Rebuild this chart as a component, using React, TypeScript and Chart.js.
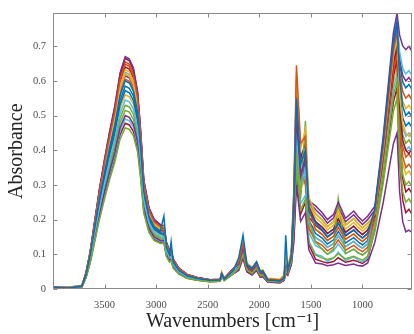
import React, { useEffect, useRef } from "react";
import { Chart, registerables } from "chart.js";

Chart.register(...registerables);

// Wavenumber grid (cm^-1) shared by every spectrum
const WAVENUMBERS = [
  4000, 3850, 3720, 3680, 3640, 3600, 3550, 3500, 3450, 3400, 3350, 3300, 3260, 3220, 3180, 3150, 3120, 3070, 3020,
  2960, 2925, 2900, 2870, 2855, 2835, 2780, 2700, 2600, 2480,
  2380, 2365, 2340, 2250, 2200, 2158, 2120, 2070, 2027, 1990, 1966, 1920, 1800, 1760, 1744, 1725, 1690,
  1665, 1640, 1600, 1553, 1520,
  1455, 1390, 1340, 1280, 1235, 1165, 1085, 1045, 1000, 950, 880,
  800, 740, 700, 665, 640, 610, 580, 550, 520,
];

const X_TICKS = [3500, 3000, 2500, 2000, 1500, 1000];
const Y_TICKS = [0, 0.1, 0.2, 0.3, 0.4, 0.5, 0.6, 0.7];
const X_MIN = 520;
const X_MAX = 4000;
const Y_MAX = 0.795;

const COLORS = ["#0072BD", "#D95319", "#EDB120", "#7E2F8E", "#77AC30", "#4DBEEE", "#A2142F"];

const SPECTRUM_01 = [
  0.004, 0.003, 0.008, 0.042, 0.096, 0.168, 0.258, 0.336, 0.408, 0.474, 0.558, 0.6, 0.594, 0.57, 0.51, 0.408, 0.282, 0.21, 0.18,
  0.167, 0.21, 0.12, 0.099, 0.136, 0.078, 0.054, 0.038, 0.03, 0.025,
  0.026, 0.044, 0.029, 0.054, 0.09, 0.155, 0.07, 0.06, 0.078, 0.05, 0.052, 0.027, 0.024, 0.03, 0.155, 0.055, 0.09,
  0.25, 0.55, 0.36, 0.4, 0.225,
  0.19, 0.17, 0.15, 0.165, 0.19, 0.155, 0.17, 0.158, 0.147, 0.16, 0.231,
  0.424, 0.6, 0.716, 0.77, 0.608, 0.527, 0.5, 0.51, 0.495,
];
const SPECTRUM_02 = [
  0.006, 0.004, 0.009, 0.045, 0.104, 0.181, 0.279, 0.363, 0.441, 0.512, 0.603, 0.648, 0.642, 0.616, 0.551, 0.441, 0.305, 0.227, 0.194,
  0.18, 0.176, 0.13, 0.107, 0.109, 0.084, 0.058, 0.041, 0.032, 0.027,
  0.027, 0.045, 0.03, 0.058, 0.078, 0.13, 0.07, 0.059, 0.078, 0.049, 0.052, 0.029, 0.026, 0.036, 0.065, 0.058, 0.1,
  0.29, 0.645, 0.42, 0.44, 0.23,
  0.172, 0.157, 0.14, 0.152, 0.178, 0.143, 0.159, 0.147, 0.137, 0.15, 0.222,
  0.407, 0.577, 0.688, 0.74, 0.626, 0.569, 0.55, 0.56, 0.545,
];
const SPECTRUM_03 = [
  0.003, 0.005, 0.007, 0.044, 0.101, 0.177, 0.272, 0.354, 0.43, 0.499, 0.588, 0.632, 0.626, 0.6, 0.537, 0.43, 0.297, 0.221, 0.19,
  0.176, 0.18, 0.126, 0.104, 0.11, 0.082, 0.057, 0.04, 0.031, 0.026,
  0.027, 0.05, 0.03, 0.057, 0.084, 0.14, 0.075, 0.063, 0.075, 0.053, 0.056, 0.031, 0.028, 0.04, 0.09, 0.063, 0.11,
  0.28, 0.62, 0.403, 0.46, 0.265,
  0.217, 0.199, 0.18, 0.194, 0.226, 0.184, 0.203, 0.189, 0.176, 0.19, 0.216,
  0.396, 0.562, 0.67, 0.72, 0.558, 0.477, 0.45, 0.44, 0.455,
];
const SPECTRUM_04 = [
  0.005, 0.002, 0.008, 0.047, 0.107, 0.188, 0.288, 0.375, 0.456, 0.529, 0.623, 0.67, 0.663, 0.637, 0.57, 0.456, 0.315, 0.235, 0.201,
  0.186, 0.181, 0.134, 0.111, 0.113, 0.087, 0.06, 0.042, 0.033, 0.027,
  0.028, 0.046, 0.031, 0.06, 0.072, 0.12, 0.065, 0.054, 0.072, 0.046, 0.048, 0.026, 0.024, 0.034, 0.09, 0.054, 0.095,
  0.225, 0.5, 0.325, 0.38, 0.254,
  0.24, 0.22, 0.2, 0.215, 0.25, 0.204, 0.225, 0.21, 0.196, 0.21, 0.239,
  0.437, 0.62, 0.739, 0.795, 0.732, 0.701, 0.69, 0.7, 0.685,
];
const SPECTRUM_05 = [
  0.002, 0.004, 0.006, 0.033, 0.074, 0.13, 0.2, 0.26, 0.316, 0.367, 0.432, 0.465, 0.46, 0.442, 0.395, 0.316, 0.219, 0.163, 0.14,
  0.131, 0.132, 0.093, 0.077, 0.082, 0.06, 0.043, 0.031, 0.025, 0.021,
  0.022, 0.038, 0.025, 0.045, 0.06, 0.1, 0.055, 0.045, 0.06, 0.038, 0.04, 0.022, 0.02, 0.028, 0.05, 0.045, 0.08,
  0.18, 0.4, 0.26, 0.485, 0.2,
  0.135, 0.115, 0.1, 0.115, 0.26, 0.102, 0.115, 0.105, 0.098, 0.11, 0.18,
  0.33, 0.468, 0.558, 0.6, 0.42, 0.33, 0.3, 0.31, 0.295,
];
const SPECTRUM_06 = [
  0.005, 0.006, 0.009, 0.038, 0.087, 0.153, 0.234, 0.305, 0.371, 0.431, 0.507, 0.545, 0.54, 0.518, 0.463, 0.371, 0.256, 0.191, 0.164,
  0.152, 0.151, 0.109, 0.09, 0.094, 0.071, 0.049, 0.035, 0.028, 0.023,
  0.024, 0.042, 0.027, 0.05, 0.072, 0.12, 0.065, 0.054, 0.072, 0.046, 0.048, 0.026, 0.024, 0.034, 0.06, 0.054, 0.09,
  0.2, 0.45, 0.293, 0.35, 0.19,
  0.148, 0.136, 0.12, 0.131, 0.154, 0.122, 0.137, 0.126, 0.118, 0.13, 0.234,
  0.429, 0.608, 0.725, 0.78, 0.684, 0.636, 0.62, 0.63, 0.615,
];
const SPECTRUM_07 = [
  0.004, 0.005, 0.007, 0.047, 0.106, 0.186, 0.286, 0.372, 0.452, 0.525, 0.618, 0.665, 0.658, 0.632, 0.565, 0.452, 0.313, 0.233, 0.2,
  0.185, 0.18, 0.133, 0.11, 0.112, 0.086, 0.06, 0.042, 0.033, 0.027,
  0.028, 0.046, 0.031, 0.06, 0.072, 0.12, 0.065, 0.054, 0.072, 0.046, 0.048, 0.026, 0.024, 0.034, 0.06, 0.054, 0.095,
  0.26, 0.58, 0.377, 0.42, 0.238,
  0.194, 0.178, 0.16, 0.173, 0.202, 0.163, 0.181, 0.168, 0.157, 0.17, 0.21,
  0.385, 0.546, 0.651, 0.7, 0.52, 0.43, 0.4, 0.39, 0.405,
];
const SPECTRUM_08 = [
  0.003, 0.003, 0.008, 0.041, 0.094, 0.164, 0.252, 0.328, 0.398, 0.462, 0.544, 0.585, 0.579, 0.556, 0.497, 0.398, 0.275, 0.205, 0.176,
  0.163, 0.16, 0.117, 0.097, 0.1, 0.076, 0.053, 0.037, 0.029, 0.025,
  0.025, 0.043, 0.028, 0.053, 0.078, 0.13, 0.07, 0.058, 0.078, 0.049, 0.052, 0.029, 0.026, 0.036, 0.07, 0.058, 0.095,
  0.234, 0.52, 0.338, 0.36, 0.199,
  0.16, 0.147, 0.13, 0.142, 0.166, 0.133, 0.148, 0.137, 0.127, 0.14, 0.225,
  0.413, 0.585, 0.698, 0.75, 0.648, 0.597, 0.58, 0.59, 0.575,
];
const SPECTRUM_09 = [
  0.006, 0.005, 0.01, 0.046, 0.105, 0.183, 0.282, 0.367, 0.445, 0.517, 0.609, 0.655, 0.648, 0.622, 0.557, 0.445, 0.308, 0.229, 0.197,
  0.182, 0.177, 0.131, 0.108, 0.11, 0.085, 0.059, 0.041, 0.032, 0.027,
  0.027, 0.045, 0.03, 0.058, 0.069, 0.115, 0.063, 0.052, 0.069, 0.044, 0.046, 0.025, 0.023, 0.032, 0.058, 0.052, 0.095,
  0.27, 0.6, 0.39, 0.33, 0.176,
  0.137, 0.126, 0.11, 0.121, 0.142, 0.112, 0.126, 0.116, 0.108, 0.12, 0.204,
  0.374, 0.53, 0.632, 0.68, 0.482, 0.383, 0.35, 0.36, 0.345,
];
const SPECTRUM_10 = [
  0.004, 0.004, 0.009, 0.043, 0.099, 0.174, 0.267, 0.347, 0.422, 0.49, 0.577, 0.62, 0.614, 0.589, 0.527, 0.422, 0.291, 0.217, 0.186,
  0.172, 0.185, 0.124, 0.102, 0.115, 0.081, 0.056, 0.039, 0.031, 0.026,
  0.027, 0.045, 0.03, 0.056, 0.075, 0.125, 0.068, 0.056, 0.075, 0.048, 0.05, 0.028, 0.025, 0.035, 0.085, 0.056, 0.1,
  0.252, 0.56, 0.364, 0.41, 0.242,
  0.206, 0.189, 0.17, 0.184, 0.214, 0.173, 0.192, 0.179, 0.167, 0.18, 0.219,
  0.402, 0.569, 0.679, 0.73, 0.604, 0.541, 0.52, 0.53, 0.515,
];
const SPECTRUM_11 = [
  0.003, 0.002, 0.006, 0.035, 0.08, 0.14, 0.215, 0.28, 0.34, 0.395, 0.465, 0.5, 0.495, 0.475, 0.425, 0.34, 0.235, 0.175, 0.15,
  0.14, 0.14, 0.1, 0.083, 0.087, 0.065, 0.046, 0.033, 0.026, 0.022,
  0.023, 0.038, 0.025, 0.045, 0.054, 0.09, 0.05, 0.041, 0.054, 0.034, 0.036, 0.02, 0.018, 0.025, 0.045, 0.04, 0.07,
  0.135, 0.3, 0.195, 0.22, 0.113,
  0.075, 0.072, 0.067, 0.07, 0.075, 0.068, 0.072, 0.068, 0.066, 0.075, 0.135,
  0.248, 0.351, 0.419, 0.45, 0.28, 0.194, 0.165, 0.17, 0.163,
];
const SPECTRUM_12 = [
  0.005, 0.003, 0.007, 0.036, 0.082, 0.144, 0.221, 0.288, 0.35, 0.407, 0.479, 0.515, 0.51, 0.489, 0.438, 0.35, 0.242, 0.18, 0.155,
  0.144, 0.144, 0.103, 0.085, 0.089, 0.067, 0.047, 0.033, 0.027, 0.022,
  0.023, 0.039, 0.026, 0.046, 0.057, 0.095, 0.053, 0.043, 0.057, 0.036, 0.038, 0.021, 0.019, 0.027, 0.048, 0.043, 0.075,
  0.158, 0.35, 0.228, 0.26, 0.137,
  0.098, 0.089, 0.085, 0.09, 0.102, 0.087, 0.094, 0.089, 0.083, 0.095, 0.165,
  0.303, 0.429, 0.512, 0.55, 0.37, 0.28, 0.25, 0.26, 0.245,
];
const SPECTRUM_13 = [
  0.004, 0.006, 0.008, 0.034, 0.078, 0.137, 0.211, 0.274, 0.333, 0.387, 0.456, 0.49, 0.485, 0.466, 0.417, 0.333, 0.23, 0.172, 0.147,
  0.137, 0.138, 0.098, 0.081, 0.086, 0.064, 0.045, 0.032, 0.026, 0.022,
  0.022, 0.039, 0.025, 0.045, 0.06, 0.1, 0.055, 0.045, 0.06, 0.038, 0.04, 0.022, 0.02, 0.028, 0.05, 0.045, 0.078,
  0.171, 0.38, 0.247, 0.27, 0.137,
  0.1, 0.094, 0.08, 0.089, 0.106, 0.082, 0.093, 0.084, 0.078, 0.09, 0.186,
  0.341, 0.484, 0.577, 0.62, 0.488, 0.422, 0.4, 0.41, 0.395,
];
const SPECTRUM_14 = [
  0.006, 0.004, 0.008, 0.045, 0.102, 0.179, 0.275, 0.358, 0.435, 0.506, 0.595, 0.64, 0.634, 0.608, 0.544, 0.435, 0.301, 0.224, 0.192,
  0.178, 0.174, 0.128, 0.106, 0.108, 0.083, 0.057, 0.04, 0.032, 0.026,
  0.027, 0.044, 0.03, 0.057, 0.066, 0.11, 0.06, 0.05, 0.066, 0.042, 0.044, 0.024, 0.022, 0.031, 0.055, 0.05, 0.09,
  0.225, 0.5, 0.325, 0.34, 0.207,
  0.183, 0.168, 0.15, 0.163, 0.19, 0.153, 0.17, 0.158, 0.147, 0.16, 0.198,
  0.363, 0.515, 0.614, 0.66, 0.44, 0.318, 0.28, 0.29, 0.275,
];
const SPECTRUM_15 = [
  0.003, 0.005, 0.009, 0.04, 0.092, 0.16, 0.246, 0.32, 0.389, 0.452, 0.532, 0.572, 0.566, 0.543, 0.486, 0.389, 0.269, 0.2, 0.172,
  0.159, 0.157, 0.114, 0.094, 0.098, 0.074, 0.052, 0.036, 0.029, 0.024,
  0.025, 0.043, 0.028, 0.052, 0.072, 0.12, 0.065, 0.054, 0.072, 0.046, 0.048, 0.026, 0.024, 0.034, 0.07, 0.054, 0.09,
  0.216, 0.48, 0.312, 0.37, 0.223,
  0.194, 0.178, 0.16, 0.173, 0.202, 0.163, 0.181, 0.168, 0.157, 0.17, 0.213,
  0.391, 0.554, 0.66, 0.71, 0.566, 0.494, 0.47, 0.48, 0.465,
];
const SPECTRUM_16 = [
  0.005, 0.004, 0.007, 0.042, 0.097, 0.169, 0.26, 0.339, 0.411, 0.478, 0.563, 0.605, 0.599, 0.575, 0.514, 0.411, 0.284, 0.212, 0.182,
  0.168, 0.165, 0.121, 0.1, 0.103, 0.079, 0.054, 0.038, 0.03, 0.025,
  0.026, 0.044, 0.029, 0.054, 0.066, 0.11, 0.06, 0.05, 0.066, 0.042, 0.044, 0.024, 0.022, 0.031, 0.055, 0.05, 0.09,
  0.239, 0.53, 0.345, 0.3, 0.174,
  0.148, 0.136, 0.12, 0.131, 0.154, 0.122, 0.137, 0.126, 0.118, 0.13, 0.207,
  0.38, 0.538, 0.642, 0.69, 0.504, 0.411, 0.38, 0.39, 0.375,
];
const SPECTRUM_17 = [
  0.004, 0.005, 0.006, 0.039, 0.09, 0.157, 0.241, 0.314, 0.381, 0.442, 0.521, 0.56, 0.554, 0.532, 0.476, 0.381, 0.263, 0.196, 0.168,
  0.156, 0.154, 0.112, 0.092, 0.096, 0.073, 0.051, 0.036, 0.028, 0.024,
  0.024, 0.042, 0.027, 0.051, 0.063, 0.105, 0.058, 0.047, 0.063, 0.04, 0.042, 0.023, 0.021, 0.029, 0.053, 0.047, 0.085,
  0.198, 0.44, 0.286, 0.32, 0.194,
  0.171, 0.157, 0.14, 0.152, 0.178, 0.143, 0.159, 0.147, 0.137, 0.15, 0.192,
  0.352, 0.499, 0.595, 0.64, 0.454, 0.361, 0.33, 0.34, 0.325,
];
const SPECTRUM_18 = [
  0.005, 0.003, 0.008, 0.043, 0.098, 0.172, 0.264, 0.344, 0.418, 0.486, 0.572, 0.615, 0.609, 0.584, 0.523, 0.418, 0.289, 0.215, 0.185,
  0.171, 0.168, 0.123, 0.101, 0.104, 0.08, 0.055, 0.039, 0.031, 0.026,
  0.026, 0.044, 0.029, 0.055, 0.069, 0.115, 0.063, 0.052, 0.069, 0.044, 0.046, 0.025, 0.023, 0.032, 0.09, 0.052, 0.09,
  0.207, 0.46, 0.299, 0.39, 0.25,
  0.229, 0.21, 0.19, 0.205, 0.238, 0.194, 0.214, 0.2, 0.186, 0.2, 0.228,
  0.418, 0.593, 0.707, 0.76, 0.664, 0.616, 0.6, 0.61, 0.595,
];
const SPECTRUM_19 = [
  0.003, 0.004, 0.007, 0.037, 0.085, 0.148, 0.228, 0.297, 0.36, 0.419, 0.493, 0.53, 0.525, 0.504, 0.451, 0.36, 0.249, 0.186, 0.159,
  0.148, 0.147, 0.106, 0.087, 0.092, 0.069, 0.048, 0.034, 0.027, 0.023,
  0.024, 0.041, 0.027, 0.048, 0.066, 0.11, 0.06, 0.05, 0.066, 0.042, 0.044, 0.024, 0.022, 0.031, 0.055, 0.05, 0.085,
  0.189, 0.42, 0.273, 0.4, 0.246,
  0.217, 0.199, 0.18, 0.194, 0.226, 0.184, 0.203, 0.189, 0.176, 0.19, 0.21,
  0.369, 0.523, 0.623, 0.67, 0.52, 0.445, 0.42, 0.43, 0.415,
];
const SPECTRUM_20 = [
  0.006, 0.005, 0.009, 0.044, 0.1, 0.175, 0.269, 0.35, 0.425, 0.494, 0.581, 0.625, 0.619, 0.594, 0.531, 0.425, 0.294, 0.219, 0.188,
  0.174, 0.17, 0.125, 0.103, 0.106, 0.081, 0.056, 0.039, 0.031, 0.026,
  0.027, 0.045, 0.03, 0.056, 0.072, 0.12, 0.065, 0.054, 0.072, 0.046, 0.048, 0.026, 0.024, 0.034, 0.06, 0.054, 0.095,
  0.257, 0.57, 0.371, 0.31, 0.163,
  0.125, 0.115, 0.1, 0.11, 0.13, 0.102, 0.115, 0.105, 0.098, 0.11, 0.21,
  0.385, 0.546, 0.651, 0.7, 0.544, 0.466, 0.44, 0.45, 0.435,
];
const SPECTRUM_21 = [
  0.004, 0.003, 0.006, 0.033, 0.076, 0.134, 0.206, 0.268, 0.325, 0.378, 0.445, 0.478, 0.473, 0.454, 0.406, 0.325, 0.225, 0.167, 0.143,
  0.134, 0.135, 0.096, 0.079, 0.084, 0.062, 0.044, 0.031, 0.025, 0.021,
  0.022, 0.038, 0.025, 0.044, 0.054, 0.09, 0.05, 0.041, 0.054, 0.034, 0.036, 0.02, 0.018, 0.025, 0.045, 0.04, 0.072,
  0.149, 0.33, 0.215, 0.25, 0.128,
  0.086, 0.079, 0.075, 0.079, 0.09, 0.077, 0.083, 0.079, 0.074, 0.085, 0.174,
  0.319, 0.452, 0.539, 0.58, 0.372, 0.256, 0.22, 0.23, 0.215,
];

const SPECTRA = [
  SPECTRUM_01, SPECTRUM_02, SPECTRUM_03, SPECTRUM_04, SPECTRUM_05, SPECTRUM_06, SPECTRUM_07,
  SPECTRUM_08, SPECTRUM_09, SPECTRUM_10, SPECTRUM_11, SPECTRUM_12, SPECTRUM_13, SPECTRUM_14,
  SPECTRUM_15, SPECTRUM_16, SPECTRUM_17, SPECTRUM_18, SPECTRUM_19, SPECTRUM_20, SPECTRUM_21,
];

const SERIF = "'Liberation Serif', 'DejaVu Serif', serif";

const boxPlugin = {
  id: "matlabBox",
  afterDatasetsDraw(chart: any) {
    const { ctx, chartArea: a, scales } = chart;
    const L = Math.round(a.left) + 0.5;
    const R = Math.round(a.right) - 0.5;
    const T = Math.round(a.top) + 0.5;
    const B = Math.round(a.bottom) - 0.5;
    ctx.save();
    ctx.strokeStyle = "#8a8a8a";
    ctx.lineWidth = 1;
    ctx.strokeRect(L, T, R - L, B - T);
    const len = 4;
    ctx.beginPath();
    X_TICKS.forEach((v) => {
      const x = Math.round(scales.x.getPixelForValue(v)) + 0.5;
      ctx.moveTo(x, B);
      ctx.lineTo(x, B - len);
      ctx.moveTo(x, T);
      ctx.lineTo(x, T + len);
    });
    Y_TICKS.forEach((v) => {
      const y = Math.round(scales.y.getPixelForValue(v)) + 0.5;
      ctx.moveTo(L, y);
      ctx.lineTo(L + len, y);
      ctx.moveTo(R, y);
      ctx.lineTo(R - len, y);
    });
    ctx.stroke();
    ctx.restore();
  },
};

export default function App() {
  const canvasRef = useRef<HTMLCanvasElement | null>(null);

  useEffect(() => {
    if (!canvasRef.current) return;
    const datasets = SPECTRA.map((s, i) => ({
      data: s.map((y, j) => ({ x: WAVENUMBERS[j], y })),
      borderColor: COLORS[i % COLORS.length],
      backgroundColor: COLORS[i % COLORS.length],
      borderWidth: 1.5,
      pointRadius: 0,
      fill: false,
      tension: 0,
    }));
    const chart = new Chart(canvasRef.current, {
      type: "line",
      data: { datasets },
      plugins: [boxPlugin],
      options: {
        responsive: false,
        animation: false,
        devicePixelRatio: 1,
        events: [],
        layout: { padding: { left: 0, right: 2, top: 12, bottom: 0 } },
        plugins: { legend: { display: false }, tooltip: { enabled: false } },
        scales: {
          x: {
            type: "linear",
            reverse: true,
            min: X_MIN,
            max: X_MAX,
            grid: { display: false, drawTicks: false, tickLength: 0 },
            border: { display: false },
            afterBuildTicks: (s: any) => {
              s.ticks = X_TICKS.map((v) => ({ value: v }));
            },
            afterFit: (s: any) => {
              s.height = 45;
            },
            ticks: {
              font: { family: SERIF, size: 10.5 },
              color: "#4d4d4d",
              padding: 10,
              maxRotation: 0,
              autoSkip: false,
              callback: (v: any) => String(v),
            },
            title: {
              display: true,
              text: "Wavenumbers [cm\u207B\u00B9]",
              font: { family: SERIF, size: 20 },
              color: "#262626",
              padding: { top: 0, bottom: 0 },
            },
          },
          y: {
            type: "linear",
            min: 0,
            max: Y_MAX,
            grid: { display: false, drawTicks: false, tickLength: 0 },
            border: { display: false },
            afterBuildTicks: (s: any) => {
              s.ticks = Y_TICKS.map((v) => ({ value: v }));
            },
            afterFit: (s: any) => {
              s.width = 53;
            },
            ticks: {
              font: { family: SERIF, size: 10.5 },
              color: "#4d4d4d",
              padding: 7,
              autoSkip: false,
              callback: (v: any) => String(v),
            },
            title: {
              display: true,
              text: "Absorbance",
              font: { family: SERIF, size: 20 },
              color: "#262626",
              padding: { top: 5, bottom: 0 },
            },
          },
        },
      },
    } as any);
    return () => chart.destroy();
  }, []);

  return (
    <div style={{ position: "absolute", left: 0, top: 0, width: 414, height: 334, background: "#fff" }}>
      <canvas ref={canvasRef} width={414} height={334} />
    </div>
  );
}
